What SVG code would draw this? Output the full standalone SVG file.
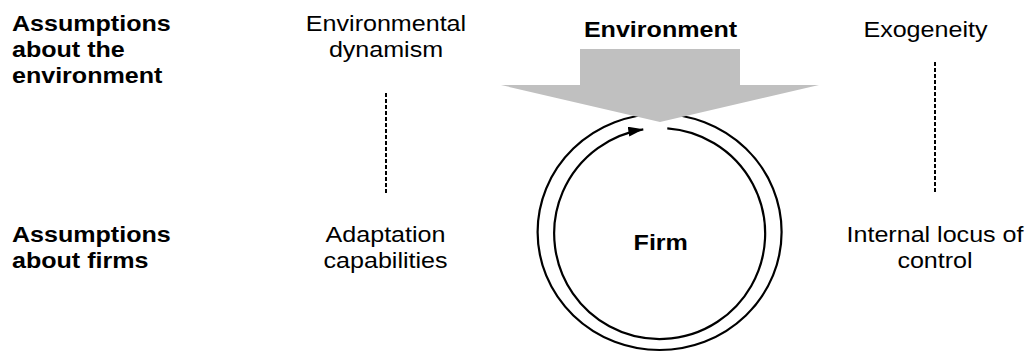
<svg xmlns="http://www.w3.org/2000/svg" width="1027" height="352" viewBox="0 0 1027 352">
<style>
text{font-family:"Liberation Sans",Arial,sans-serif;font-size:22px;fill:#000}
.b{font-weight:bold}
.m{text-anchor:middle}
.dash{stroke:#000;stroke-width:2;stroke-dasharray:4 2;fill:none}
.ring{stroke:#000;stroke-width:2.2;fill:none}
</style>
<defs>
<marker id="ah" viewBox="0 0 15 10" refX="15" refY="5" markerWidth="15" markerHeight="10" markerUnits="userSpaceOnUse" orient="auto">
<path d="M0,0 L15,5 L0,10 z" fill="#000"/>
</marker>
</defs>
<rect width="1027" height="352" fill="#fff"/>
<g id="label-env-assumptions">
<text class="b" transform="scale(1.14 1)" x="10.5" y="31">Assumptions</text>
<text class="b" transform="scale(1.14 1)" x="10.5" y="57">about the</text>
<text class="b" transform="scale(1.14 1)" x="10.5" y="83">environment</text>
</g>
<g id="label-firm-assumptions">
<text class="b" transform="scale(1.14 1)" x="10.5" y="242">Assumptions</text>
<text class="b" transform="scale(1.14 1)" x="10.5" y="268">about firms</text>
</g>
<g id="env-dynamism">
<text class="m" transform="scale(1.14 1)" x="338.6" y="31.5">Environmental</text>
<text class="m" transform="scale(1.14 1)" x="338.6" y="57.5">dynamism</text>
</g>
<g id="adaptation">
<text class="m" transform="scale(1.14 1)" x="338.2" y="242">Adaptation</text>
<text class="m" transform="scale(1.14 1)" x="338.2" y="268">capabilities</text>
</g>
<g id="exogeneity">
<text class="m" transform="scale(1.14 1)" x="811.8" y="37">Exogeneity</text>
</g>
<g id="locus">
<text class="m" transform="scale(1.14 1)" x="820.2" y="242">Internal locus of</text>
<text class="m" transform="scale(1.14 1)" x="820.2" y="268">control</text>
</g>
<g id="firm">
<ellipse class="ring" cx="659.6" cy="232" rx="122" ry="118"/>
<path class="ring" d="M667.3,128.3 A105.5,105.5 0 1 1 643.3,129.3" marker-end="url(#ah)"/>
<text class="b m" transform="scale(1.14 1)" x="579.6" y="250">Firm</text>
</g>
<g id="environment">
<polygon points="580,49 740,49 740,85 819,85 660,122 501,85 580,85" fill="#c0c0c0"/>
<text class="b m" transform="scale(1.14 1)" x="579.4" y="37">Environment</text>
</g>
<g id="connectors">
<line class="dash" x1="386" y1="93" x2="386" y2="195"/>
<line class="dash" x1="935" y1="62" x2="935" y2="193"/>
</g>
</svg>
